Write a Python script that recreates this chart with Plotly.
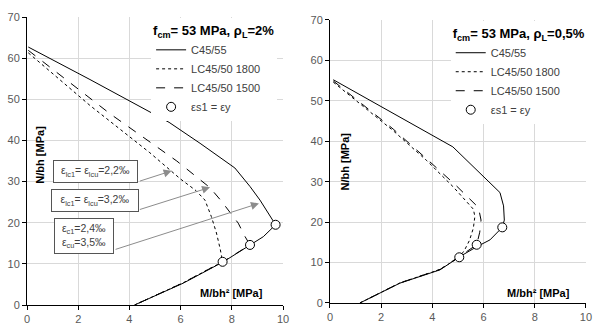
import plotly.graph_objects as go

# ---------------- data: left chart (rho_L = 2%) ----------------
M_C45_L = [0.05, 2.46, 5.55, 6.76, 8.12, 8.71, 9.1, 9.4, 9.6, 9.71, 9.23, 8.71, 7.67, 6.1, 4.8, 4.2]
N_C45_L = [62.7, 54.8, 44.4, 39.3, 33.3, 28.8, 25.5, 22.5, 20.8, 19.5, 16.6, 14.6, 10.5, 5.3, 1.6, 0.0]

M_1800_L = [0.05, 2.46, 4.8, 6.0, 6.6, 6.95, 7.2, 7.4, 7.55, 7.64, 6.1, 4.8, 4.2]
N_1800_L = [61.3, 48.5, 37.0, 30.6, 27.8, 25.5, 21.5, 17.5, 13.5, 10.5, 5.4, 1.7, 0.0]

M_1500_L = [0.05, 3.24, 5.85, 6.63, 7.15, 7.6, 7.95, 8.25, 8.5, 8.71, 7.67, 6.1, 4.8, 4.2]
N_1500_L = [61.9, 46.5, 35.0, 31.2, 28.5, 25.2, 22.5, 19.9, 16.8, 14.6, 10.6, 5.4, 1.7, 0.0]

M_Y_L = [9.71, 8.71, 7.64]
N_Y_L = [19.5, 14.6, 10.5]

# ---------------- data: right chart (rho_L = 0.5%) ----------------
M_C45_R = [0.13, 3.58, 4.8, 6.64, 6.78, 6.81, 6.73, 6.25, 5.73, 5.08, 4.3, 2.73, 1.17]
N_C45_R = [55.2, 42.9, 38.6, 27.3, 24.0, 20.5, 18.7, 15.6, 13.9, 11.5, 8.2, 4.9, 0.0]

M_1800_R = [0.13, 2.47, 3.78, 4.8, 5.6, 5.66, 5.6, 5.45, 5.25, 5.05, 4.3, 2.73, 1.17]
N_1800_R = [54.6, 42.6, 35.2, 28.8, 23.2, 21.4, 18.5, 15.5, 13.0, 11.3, 8.3, 4.95, 0.0]

M_1500_R = [0.13, 2.47, 3.78, 4.9, 5.8, 5.9, 5.85, 5.73, 5.08, 4.3, 2.73, 1.17]
N_1500_R = [54.9, 43.0, 35.6, 29.2, 23.6, 20.5, 17.5, 14.4, 11.6, 8.3, 4.95, 0.0]

M_Y_R = [6.73, 5.73, 5.05]
N_Y_R = [18.7, 14.4, 11.3]

x_ticks = [0, 2, 4, 6, 8, 10]
y_ticks = [0, 10, 20, 30, 40, 50, 60, 70]

series_names = ["C45/55", "LC45/50 1800", "LC45/50 1500", "εs1 = εy"]
titles = ["<b>f<sub>cm</sub>= 53 MPa, ρ<sub>L</sub>=2%</b>",
          "<b>f<sub>cm</sub>= 53 MPa, ρ<sub>L</sub>=0,5%</b>"]
box_texts = ["ε<sub>lc1</sub>= ε<sub>lcu</sub>=2,2‰",
             "ε<sub>lc1</sub>= ε<sub>lcu</sub>=3,2‰",
             "ε<sub>c1</sub>=2,4‰<br>ε<sub>cu</sub>=3,5‰"]

FONT = "Liberation Sans"
fig = go.Figure()

def add_set(M_c, N_c, M_a, N_a, M_b, N_b, M_y, N_y, xa, ya, leg):
    common = dict(xaxis=xa, yaxis=ya, legend=leg)
    fig.add_trace(go.Scatter(x=M_c, y=N_c, mode="lines", name=series_names[0], legendgroup=leg + "a",
                             line=dict(color="black", width=1), **common))
    fig.add_trace(go.Scatter(x=M_a, y=N_a, mode="lines", name=series_names[1], legendgroup=leg + "b",
                             line=dict(color="black", width=1, dash="dot"), **common))
    fig.add_trace(go.Scatter(x=M_b, y=N_b, mode="lines", name=series_names[2], legendgroup=leg + "c",
                             line=dict(color="black", width=1, dash="dash"), **common))
    fig.add_trace(go.Scatter(x=M_y, y=N_y, mode="markers", name=series_names[3], legendgroup=leg + "d",
                             marker=dict(symbol="circle", size=9, color="white",
                                         line=dict(color="black", width=1)), **common))

add_set(M_C45_L, N_C45_L, M_1800_L, N_1800_L, M_1500_L, N_1500_L, M_Y_L, N_Y_L, "x", "y", "legend")
add_set(M_C45_R, N_C45_R, M_1800_R, N_1800_R, M_1500_R, N_1500_R, M_Y_R, N_Y_R, "x2", "y2", "legend2")

axis_common = dict(showgrid=True, gridcolor="#d9d9d9", gridwidth=1, zeroline=False,
                   showline=True, linecolor="black", linewidth=1, automargin=False,
                   ticks="outside", ticklen=4, tickcolor="black",
                   tickfont=dict(family=FONT, size=11, color="#595959"))

legend_common = dict(bgcolor="white", borderwidth=0, font=dict(family=FONT, size=11, color="#404040"),
                     title_font=dict(family=FONT, size=13, color="black"),
                     traceorder="grouped", tracegroupgap=0, yanchor="top", xanchor="left")

fig.update_layout(
    width=597, height=323, margin=dict(l=27, r=11, t=17, b=18, autoexpand=False),
    paper_bgcolor="white", plot_bgcolor="white",
    font=dict(family=FONT),
    xaxis=dict(domain=[0, 0.458], range=[0, 10], tickvals=x_ticks, anchor="y", **axis_common),
    yaxis=dict(domain=[0, 1], range=[0, 70], tickvals=y_ticks, anchor="x", **axis_common),
    xaxis2=dict(domain=[0.542, 1], range=[0, 10], tickvals=x_ticks, anchor="y2", **axis_common),
    yaxis2=dict(domain=[0.007, 0.99], range=[0, 70], tickvals=y_ticks, anchor="x2", **axis_common),
    legend=dict(x=0.222, y=0.995, title=dict(text=titles[0]), **legend_common),
    legend2=dict(x=0.758, y=0.985, title=dict(text=titles[1]), **legend_common),
    showlegend=True,
)

# axis titles inside plots
for xr, yr, xv, yv in [("x", "y", 0.5, 36.5), ("x2", "y2", 0.59, 35.0)]:
    fig.add_annotation(x=xv, y=yv, xref=xr, yref=yr, text="<b>N/bh [MPa]</b>", textangle=-90,
                       showarrow=False, font=dict(family=FONT, size=11, color="black"))
for xr, yr, xv, yv in [("x", "y", 8.0, 2.9), ("x2", "y2", 8.13, 2.5)]:
    fig.add_annotation(x=xv, y=yv, xref=xr, yref=yr, text="<b>M/bh² [MPa]</b>",
                       showarrow=False, font=dict(family=FONT, size=11, color="black"))

# arrows (gray) from boxes to curves
arrows = [((4.35, 30.0), (5.65, 32.6)), ((4.35, 23.1), (7.15, 28.6)), ((3.4, 13.4), (9.06, 24.7))]
for (tx, ty), (hx, hy) in arrows:
    fig.add_annotation(x=hx, y=hy, ax=tx, ay=ty, xref="x", yref="y", axref="x", ayref="y",
                       text="", showarrow=True, arrowhead=2, arrowsize=1.6, arrowwidth=1,
                       arrowcolor="#8c8c8c")

# boxes
boxes = [(2.69, 32.4, 81, 19), (2.64, 25.4, 84, 19), (2.23, 16.7, 56, 32)]
for (bx, by, bw, bh), txt in zip(boxes, box_texts):
    fig.add_annotation(x=bx, y=by, xref="x", yref="y", text=txt, showarrow=False,
                       width=bw, height=bh, bgcolor="white", bordercolor="#555555",
                       borderwidth=1, borderpad=1, align="center",
                       font=dict(family=FONT, size=10.5, color="#404040"))

fig.write_html("out.html")
